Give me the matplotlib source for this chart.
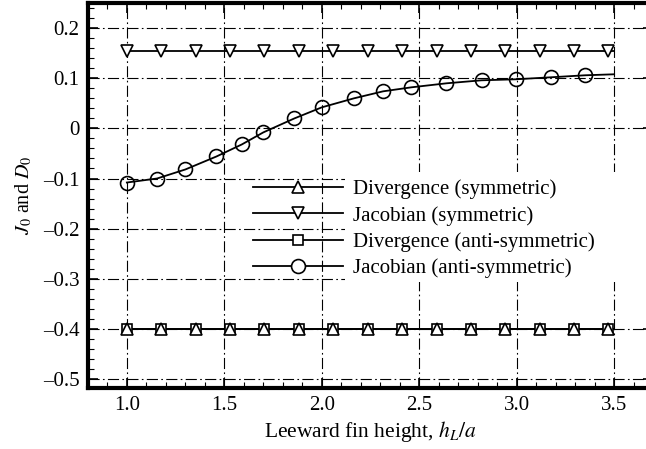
import matplotlib
matplotlib.use("Agg")
import matplotlib.pyplot as plt
from matplotlib.ticker import MultipleLocator, FuncFormatter
from matplotlib.patches import Rectangle

plt.rcParams['font.family'] = ['Liberation Serif', 'DejaVu Serif']
plt.rcParams['mathtext.fontset'] = 'stix'

# marker positions shared by the constant series
h_const = [1.0, 1.177, 1.353, 1.530, 1.706, 1.883, 2.059, 2.236,
           2.412, 2.589, 2.765, 2.942, 3.118, 3.295, 3.471]
div_sym = [-0.400] * len(h_const)
jac_sym = [0.155] * len(h_const)
div_anti = [-0.400] * len(h_const)

# jacobian anti-symmetric curve
h_anti = [1.0, 1.155, 1.30, 1.46, 1.59, 1.70, 1.86, 2.0, 2.165, 2.315,
          2.46, 2.64, 2.82, 2.995, 3.175, 3.35]
jac_anti = [-0.108, -0.100, -0.082, -0.056, -0.032, -0.008, 0.020, 0.042,
            0.060, 0.074, 0.082, 0.090, 0.096, 0.098, 0.102, 0.106]
h_end = 3.5
jac_anti_end = 0.108

labels = ["Divergence (symmetric)", "Jacobian (symmetric)",
          "Divergence (anti-symmetric)", "Jacobian (anti-symmetric)"]

fig = plt.figure(figsize=(6.46, 4.49), dpi=100)
ax = fig.add_axes([0.136, 0.136, 0.875, 0.857])

lw = 1.3
def const_line(y, marker, ms):
    ax.plot([h_const[0], h_end], [y[0], y[-1]], color='black', lw=lw, zorder=2)
    ax.plot(h_const, y, ls='none', marker=marker, ms=ms, mfc='white',
            mec='black', mew=1.2, zorder=3)

const_line(jac_sym, 'v', 8)
const_line(div_anti, 's', 6.5)
const_line(div_sym, '^', 8)

ax.plot(h_anti + [h_end], jac_anti + [jac_anti_end], color='black', lw=lw, zorder=2)
ax.plot(h_anti, jac_anti, ls='none', marker='o', ms=10, mfc='none',
        mec='black', mew=1.2, zorder=3)

handles = [
    ax.plot([], [], color='black', lw=lw, marker='^', ms=8, mfc='white', mec='black', mew=1.2)[0],
    ax.plot([], [], color='black', lw=lw, marker='v', ms=8, mfc='white', mec='black', mew=1.2)[0],
    ax.plot([], [], color='black', lw=lw, marker='s', ms=6.5, mfc='white', mec='black', mew=1.2)[0],
    ax.plot([], [], color='black', lw=lw, marker='o', ms=10, mfc='white', mec='black', mew=1.2)[0],
]

# white area behind the legend text
ax.add_patch(Rectangle((2.12, -0.306), 1.7, 0.2185, facecolor='white',
                       edgecolor='none', zorder=1.6))

ax.legend(handles, labels, loc='upper left', bbox_to_anchor=(0.267, 0.579),
          frameon=False, fontsize=15, handlelength=4.3, handletextpad=0.5,
          labelspacing=0.31, borderpad=0.2)

ax.set_xlim(0.8, 3.7)
ax.set_ylim(-0.518, 0.25)
ax.xaxis.set_major_locator(MultipleLocator(0.5))
ax.xaxis.set_minor_locator(MultipleLocator(0.1))
ax.yaxis.set_major_locator(MultipleLocator(0.1))
ax.yaxis.set_minor_locator(MultipleLocator(0.02))
ax.xaxis.set_major_formatter(FuncFormatter(lambda v, p: "%.1f" % v))
ax.yaxis.set_major_formatter(FuncFormatter(
    lambda v, p: "0" if abs(v) < 1e-9 else ("%.1f" % v).replace("-", "\u2013")))

ax.tick_params(which='both', direction='in', top=True, right=True,
               labelsize=15, pad=6)
ax.tick_params(which='major', length=7, width=1.2)
ax.tick_params(which='minor', length=4, width=0.8)

ax.grid(True, which='major', color='black', lw=0.8, ls=(0, (10, 3, 1.5, 3)))
for s in ax.spines.values():
    s.set_linewidth(3)

ax.set_xlabel(r'Leeward fin height, $h_L/a$', fontsize=15.5, labelpad=3)
ax.set_ylabel(r'$J_0$ and $D_0$', fontsize=14.5, labelpad=6)

fig.savefig("out.png", dpi=100)
